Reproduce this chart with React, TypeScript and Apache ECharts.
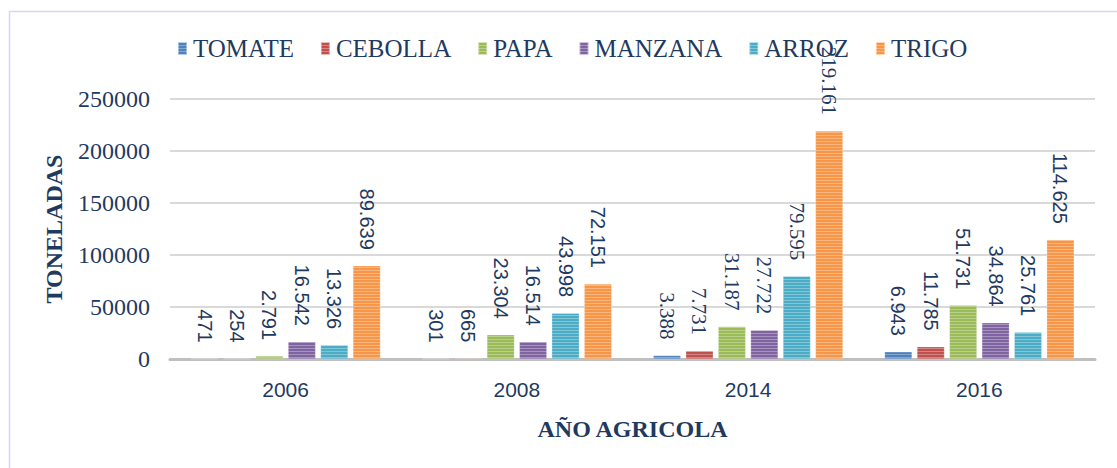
import React, { useEffect, useRef } from "react";
import * as echarts from "echarts";

const years = ["2006", "2008", "2014", "2016"];
const seriesNames = ["TOMATE", "CEBOLLA", "PAPA", "MANZANA", "ARROZ", "TRIGO"];
const tomate = [471, 301, 3388, 6943];
const cebolla = [254, 665, 7731, 11785];
const papa = [2791, 23304, 31187, 51731];
const manzana = [16542, 16514, 27722, 34864];
const arroz = [13326, 43998, 79595, 25761];
const trigo = [89639, 72151, 219161, 114625];
const seriesValues = [tomate, cebolla, papa, manzana, arroz, trigo];
const colors = ["#4F81BD", "#C0504D", "#9BBB59", "#8064A2", "#4BACC6", "#F79646"];
const serifYearIndex = 2;

const NAVY = "#1F3A60";
const SERIF = "'Liberation Serif', 'Times New Roman', serif";
const SANS = "'Liberation Sans', Arial, sans-serif";

function fmt(v: number): string {
  return String(v).replace(/\B(?=(\d{3})+(?!\d))/g, ".");
}

export default function App() {
  const ref = useRef<HTMLDivElement>(null);
  useEffect(() => {
    if (!ref.current) return;
    const chart = echarts.init(ref.current, undefined, { renderer: "svg" });
    const series = seriesNames.map((name, si) => ({
      name,
      type: "bar",
      barGap: "18%",
      barCategoryGap: "18%",
      itemStyle: {
        color: colors[si],
        borderColor: "rgba(255,255,255,0.25)",
        borderWidth: 0.5,
        decal: {
          symbol: "rect",
          symbolSize: 1,
          dashArrayX: [1, 0],
          dashArrayY: [1, 2],
          rotation: 0,
          color: "rgba(255,255,255,0.3)",
        },
      },
      label: {
        show: true,
        position: "top",
        rotate: -90,
        align: "right",
        verticalAlign: "middle",
        distance: 16,
        color: NAVY,
        fontFamily: SANS,
        fontSize: 20,
        formatter: (p: any) => fmt(p.value),
      },
      data: seriesValues[si].map((v, yi) =>
        yi === serifYearIndex
          ? { value: v, label: { fontFamily: SERIF, fontSize: 21 } }
          : { value: v }
      ),
    }));
    chart.setOption({
      animation: false,
      backgroundColor: "#ffffff",
      graphic: [
        {
          type: "rect",
          shape: { x: 9.5, y: 11.5, width: 1300, height: 600 },
          style: { fill: "none", stroke: "#D6D6F8", lineWidth: 1.5 },
          silent: true,
        },
      ],
      legend: {
        left: 172,
        top: 31,
        itemWidth: 9,
        itemHeight: 13,
        itemGap: 26,
        icon: "rect",
        textStyle: { fontFamily: SERIF, fontSize: 25, color: NAVY, padding: [0, 0, 0, 1] },
        data: seriesNames,
      },
      grid: { left: 170, right: 22, top: 99, bottom: 109 },
      xAxis: {
        type: "category",
        data: years,
        axisLine: { lineStyle: { color: "#BFBFBF", width: 3 } },
        axisTick: { show: false },
        axisLabel: { fontFamily: SANS, fontSize: 21, color: NAVY, margin: 20 },
        name: "AÑO AGRICOLA",
        nameLocation: "middle",
        nameGap: 58,
        nameTextStyle: { fontFamily: SERIF, fontSize: 24, fontWeight: "bold", color: NAVY },
      },
      yAxis: {
        type: "value",
        min: 0,
        max: 250000,
        interval: 50000,
        axisLine: { show: false },
        axisTick: { show: false },
        splitLine: { lineStyle: { color: "#D9D9D9", width: 2 } },
        axisLabel: {
          fontFamily: SERIF,
          fontSize: 24,
          color: NAVY,
          margin: 20,
          formatter: (v: number) => String(v),
        },
        name: "TONELADAS",
        nameLocation: "middle",
        nameGap: 104,
        nameRotate: 90,
        nameTextStyle: { fontFamily: SERIF, fontSize: 24, fontWeight: "bold", color: NAVY },
      },
      series,
    });
    return () => chart.dispose();
  }, []);
  return (
    <div
      ref={ref}
      style={{ position: "absolute", left: 0, top: 0, width: 1117, height: 468 }}
    />
  );
}
